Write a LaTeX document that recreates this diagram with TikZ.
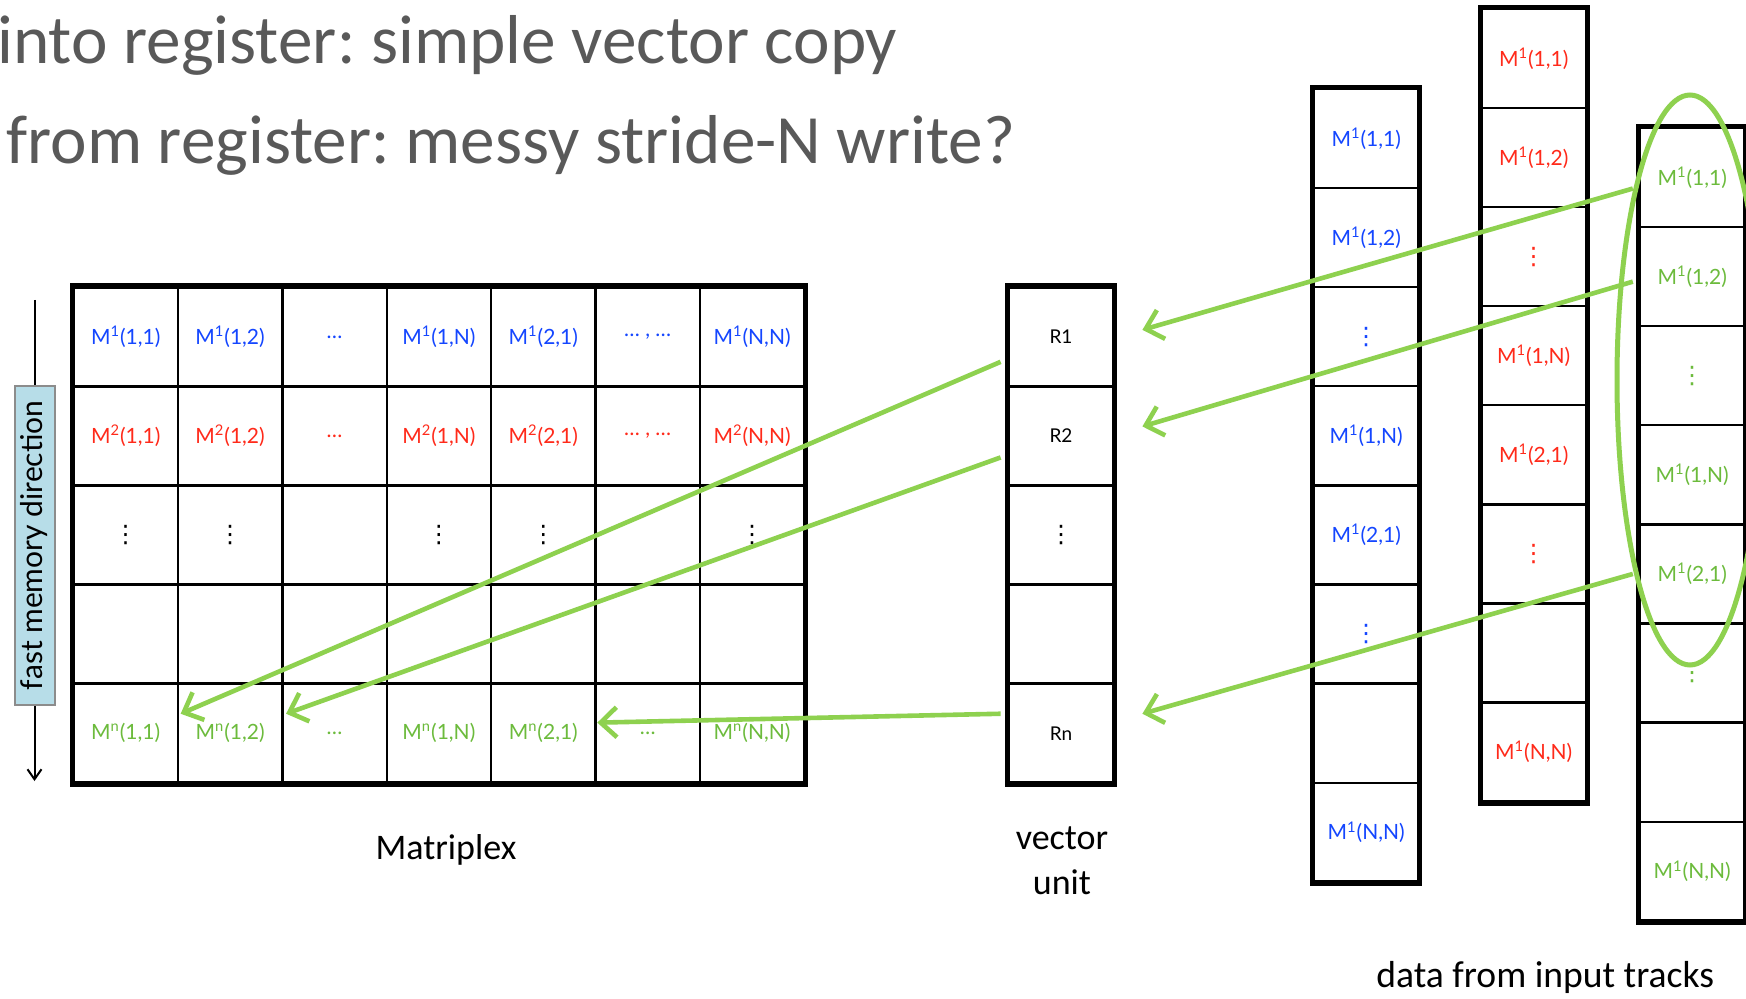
\documentclass[tikz,border=0pt]{standalone}
\usepackage{fontspec}
\setmainfont{Lato}
\newfontfamily\slidefont{Carlito}
\newfontfamily\symfont{DejaVu Sans}
\usepackage{tikz}
\usetikzlibrary{arrows.meta,calc}
\frenchspacing

\definecolor{mxblue}{HTML}{1446FF}
\definecolor{mxred}{HTML}{FF2A1A}
\definecolor{mxgreen}{HTML}{6CBB3C}
\definecolor{flowgreen}{HTML}{8ED14F}
\definecolor{titlegray}{HTML}{595959}
\definecolor{boxblue}{HTML}{B7DDE8}

% matrix element M^k(i,j)
\newcommand\mel[2]{M\textsuperscript{#1}(#2)}
\newcommand\vdotz{{\symfont\fontsize{12}{12}\selectfont ⋮}}

% cell size
\def\cw{104.4}
\def\ch{99.1}

% one row of the matriplex: row, style, labels
\newcommand\gridrow[3]{%
  \foreach \lab [count=\k] in {#3}
    \node[cell,#2] (g-#1-\k) at ({73.5+\cw*(\k-0.5)},{287.3+\ch*(#1-0.5)}) {\lab};}
% a column of cells: name, left, top, style, labels
\newcommand\cellcol[5]{%
  \foreach \lab [count=\k] in {#5}
    \node[cell,#4] (#1-\k) at ({#2+\cw/2},{#3+\ch*(\k-0.5)}) {\lab};}

\begin{document}
\begin{tikzpicture}[x=0.5pt,y=-0.5pt]
  \tikzstyle{cell}=[draw,line width=1.2pt,minimum width=52.2pt,minimum height=49.55pt,inner sep=0pt,font=\fontsize{10.5}{12}\selectfont]
  \tikzstyle{outer}=[line width=2.6pt]
  \tikzstyle{flow}=[draw=flowgreen,line width=2.3pt,-{Straight Barb[length=8pt,width=15pt]}]
  \tikzstyle{heading}=[anchor=base west,inner sep=0pt,text=titlegray,font=\slidefont\fontsize{34.6}{42}\selectfont]
  \tikzstyle{caption}=[inner sep=0pt,font=\slidefont\fontsize{18}{22.5}\selectfont]
  \path[use as bounding box,fill=white] (0,0) rectangle (1746,999);

  \node[heading] (into) at (-3,64) {into register: simple vector copy};
  \node[heading] (from) at (6,164) {from register: messy stride-N write?};

  % matriplex
  \gridrow{1}{text=mxblue}{\mel{1}{1,1},\mel{1}{1,2},\dots,\mel{1}{1,N},\mel{1}{2,1},{\dots\ ,\ \dots},\mel{1}{N,N}}
  \gridrow{2}{text=mxred}{\mel{2}{1,1},\mel{2}{1,2},\dots,\mel{2}{1,N},\mel{2}{2,1},{\dots\ ,\ \dots},\mel{2}{N,N}}
  \gridrow{3}{}{\vdotz,\vdotz,{},\vdotz,\vdotz,{},\vdotz}
  \gridrow{4}{}{{},{},{},{},{},{},{}}
  \gridrow{5}{text=mxgreen}{\mel{n}{1,1},\mel{n}{1,2},\dots,\mel{n}{1,N},\mel{n}{2,1},\dots,\mel{n}{N,N}}
  \draw[outer] (g-1-1.north west) rectangle (g-5-7.south east);
  \node[caption,anchor=base] (mplex) at (446,859) {Matriplex};

  % fast memory direction
  \node[rotate=90,draw=gray!90,line width=1pt,fill=boxblue,minimum width=159.5pt,minimum height=20pt,inner sep=0pt,font=\fontsize{15}{17}\selectfont] (fmd) at (34.5,545.5) {fast memory direction};
  \coordinate (fmtop) at (34.5,300);
  \coordinate (fmend) at (34.5,781);
  \draw[line width=1pt] (fmtop) -- (fmd.east);
  \draw[line width=1pt,-{Straight Barb[length=5pt,width=7pt]}] (fmd.west) -- (fmend);

  % vector unit
  \cellcol{vu}{1008.8}{287.3}{font=\fontsize{9.5}{10}\selectfont}{R1,R2,{\fontsize{8}{8}\selectfont\vdotz},{},Rn}
  \draw[outer] (vu-1.north west) rectangle (vu-5.south east);
  \node[caption,align=center] (vulbl) at (1062,861) {vector\\unit};

  % input tracks
  \cellcol{ta}{1314}{89}{text=mxblue}{\mel{1}{1,1},\mel{1}{1,2},\vdotz,\mel{1}{1,N},\mel{1}{2,1},\vdotz,{},\mel{1}{N,N}}
  \cellcol{tb}{1481.5}{8.9}{text=mxred}{\mel{1}{1,1},\mel{1}{1,2},\vdotz,\mel{1}{1,N},\mel{1}{2,1},\vdotz,{},\mel{1}{N,N}}
  \cellcol{tc}{1640}{128}{text=mxgreen}{\mel{1}{1,1},\mel{1}{1,2},\vdotz,\mel{1}{1,N},\mel{1}{2,1},\vdotz,{},\mel{1}{N,N}}
  \draw[outer] (ta-1.north west) rectangle (ta-8.south east);
  \draw[outer] (tb-1.north west) rectangle (tb-8.south east);
  \draw[outer] (tc-1.north west) rectangle (tc-8.south east);
  \node[caption,anchor=base west,font=\slidefont\fontsize{18.8}{22.5}\selectfont] (tracks) at (1376,987) {data from input tracks};

  \draw[flowgreen,line width=2.5pt] (1690,380) ellipse [x radius=73,y radius=285];

  % loads and stores
  \path[flow] ($(tc-1.west)+(-6,11)$) -- ($(vu-1.east)+(28,-7)$);
  \path[flow] ($(tc-2.west)+(-6,5)$) -- ($(vu-2.east)+(28,-9.5)$);
  \path[flow] ($(tc-5.west)+(-6,0)$) -- ($(vu-5.east)+(28,-19.5)$);
  \path[flow] ($(vu-1.west)+(-7,25)$) -- ($(g-5-2.west)+(4,-19.5)$);
  \path[flow] ($(vu-2.west)+(-7,21.5)$) -- ($(g-5-3.west)+(5,-19.5)$);
  \path[flow] ($(vu-5.west)+(-7,-19.5)$) -- ($(g-5-6.west)+(3,-10.6)$);
\end{tikzpicture}
\end{document}
